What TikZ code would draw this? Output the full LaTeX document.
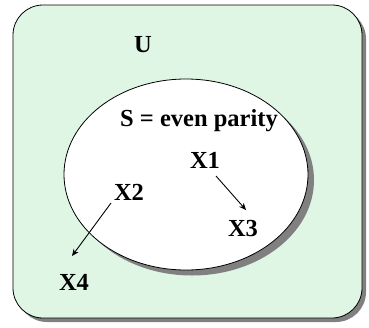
\documentclass[tikz,border=0pt]{standalone}
\usepackage{fontspec}
\setmainfont{Liberation Serif}
\usetikzlibrary{arrows.meta}
\definecolor{mint}{RGB}{223,246,229}
\definecolor{shad}{RGB}{128,128,128}
\tikzset{
  lbl/.style={font=\fontsize{24.5}{27}\selectfont\bfseries, inner sep=0pt},
  arr/.style={-{Stealth[length=7pt,width=6pt]}, line width=0.9pt},
}
\begin{document}
\begin{tikzpicture}[x=1pt,y=-1pt]
\useasboundingbox (0,0) rectangle (369,327);
% universe box with shadow
\fill[shad, rounded corners=30pt] (17,9) rectangle (366,322);
\draw[fill=mint, line width=0.8pt, rounded corners=30pt] (13,5) rectangle (362,318);
% ellipse with shadow
\fill[shad] (192,180) ellipse[x radius=122, y radius=95.5];
\draw[fill=white, line width=0.8pt] (186,174.5) ellipse[x radius=122, y radius=95.5];
% labels
\node[lbl] (U) at (143,45) {U};
\node[lbl] (S) at (199,121) {S = even parity};
\node[lbl] (X1) at (205,160) {X1};
\node[lbl] (X2) at (129,192) {X2};
\node[lbl] (X3) at (243,229) {X3};
\node[lbl] (X4) at (74,282) {X4};
\coordinate (a1) at (216,176);
\coordinate (b1) at (246,210);
\coordinate (a2) at (111,203);
\coordinate (b2) at (72,256);
\draw[arr] (a1) -- (b1);
\draw[arr] (a2) -- (b2);
\end{tikzpicture}
\end{document}
